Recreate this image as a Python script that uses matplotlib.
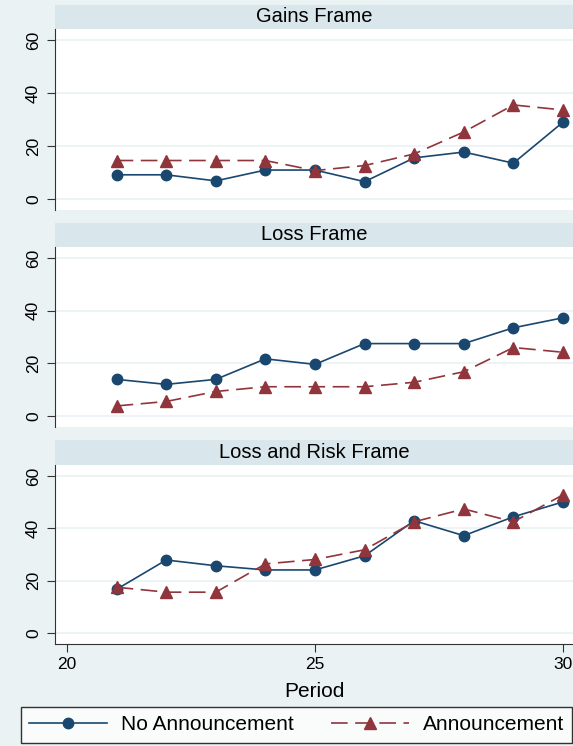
import matplotlib.pyplot as plt
from matplotlib.lines import Line2D

plt.rcParams['font.family'] = ['Liberation Sans', 'DejaVu Sans']

# data (percent by period)
periods = [21, 22, 23, 24, 25, 26, 27, 28, 29, 30]
frames = ['Gains Frame', 'Loss Frame', 'Loss and Risk Frame']
no_announcement = [
    [9.1, 9.1, 6.8, 10.9, 10.9, 6.5, 15.5, 17.7, 13.5, 29.0],
    [13.9, 12.0, 13.9, 21.7, 19.6, 27.5, 27.5, 27.5, 33.5, 37.3],
    [16.7, 27.9, 25.7, 24.1, 24.1, 29.5, 42.9, 37.2, 44.4, 50.1],
]
announcement = [
    [14.5, 14.5, 14.5, 14.5, 10.7, 12.6, 17.0, 25.3, 35.5, 33.6],
    [3.8, 5.5, 9.3, 11.1, 11.1, 11.1, 12.8, 16.8, 26.0, 24.2],
    [17.5, 15.6, 15.6, 26.4, 28.1, 31.8, 42.5, 47.4, 42.5, 52.8],
]

W, H = 573, 746
bg = '#EAF2F3'
strip_col = '#D9E6EB'
navy = '#1A476F'
maroon = '#90353B'

fig = plt.figure(figsize=(W / 100, H / 100), dpi=100, facecolor=bg)

def px_axes(left, top, right, bottom):
    return fig.add_axes([left / W, 1 - bottom / H, (right - left) / W, (bottom - top) / H])

strips = [(5, 29, 210), (223, 247, 427), (440, 465, 644)]
x_left = 20 - 12 / 49.6
x_right = 20 + (573 - 67) / 49.6

for i, (s_top, p_top, p_bot) in enumerate(strips):
    st = px_axes(55, s_top, 573, p_top)
    st.set_facecolor(strip_col)
    st.set_xticks([])
    st.set_yticks([])
    for sp in st.spines.values():
        sp.set_visible(False)
    st.text(0.5, 0.5, frames[i], ha='center', va='center', fontsize=14.5, transform=st.transAxes)

    ax = px_axes(55, p_top, 573, p_bot)
    ax.set_facecolor('white')
    ax.set_xlim(x_left, x_right)
    ax.set_ylim(-4.2, 64.2)
    ax.set_yticks([0, 20, 40, 60])
    ax.set_yticklabels(['0', '20', '40', '60'], rotation=90, va='center', fontsize=12.5)
    ax.grid(axis='y', color=bg, lw=1.2)
    ax.set_axisbelow(True)
    for side in ['top', 'right']:
        ax.spines[side].set_visible(False)
    ax.spines['left'].set_color('#333333')
    ax.tick_params(axis='y', length=5.8, color='#333333', pad=4.3)

    ax.plot(periods, no_announcement[i], color=navy, lw=1.2, marker='o', ms=7.5,
            label='No Announcement', clip_on=False)
    ax.plot(periods, announcement[i], color=maroon, lw=1.2, ls=(0, (10, 4.5)), marker='^', ms=8,
            label='Announcement', clip_on=False)

    if i < 2:
        ax.spines['bottom'].set_visible(False)
        ax.set_xticks([])
    else:
        ax.spines['bottom'].set_color('#333333')
        ax.set_xticks([20, 25, 30])
        ax.set_xticklabels(['20', '25', '30'], fontsize=12.5)
        ax.tick_params(axis='x', length=5.8, color='#333333', pad=3.6)
        ax.set_xlabel('Period', fontsize=15, labelpad=7)

handles = [
    Line2D([], [], color=navy, lw=1.2, marker='o', ms=7.5),
    Line2D([], [], color=maroon, lw=1.2, ls=(0, (10, 4.5)), marker='^', ms=8),
]
leg = fig.legend(handles, ['No Announcement', 'Announcement'], ncol=2, fontsize=15,
                 loc='upper left', bbox_to_anchor=(21 / W, 1 - 707 / H), handlelength=3.75,
                 columnspacing=1.75, handletextpad=0.67, borderpad=0.4, fancybox=False,
                 frameon=True, borderaxespad=0)
leg.get_frame().set_edgecolor('black')
leg.get_frame().set_linewidth(1.0)

fig.savefig('out.png', dpi=100, facecolor=bg)
